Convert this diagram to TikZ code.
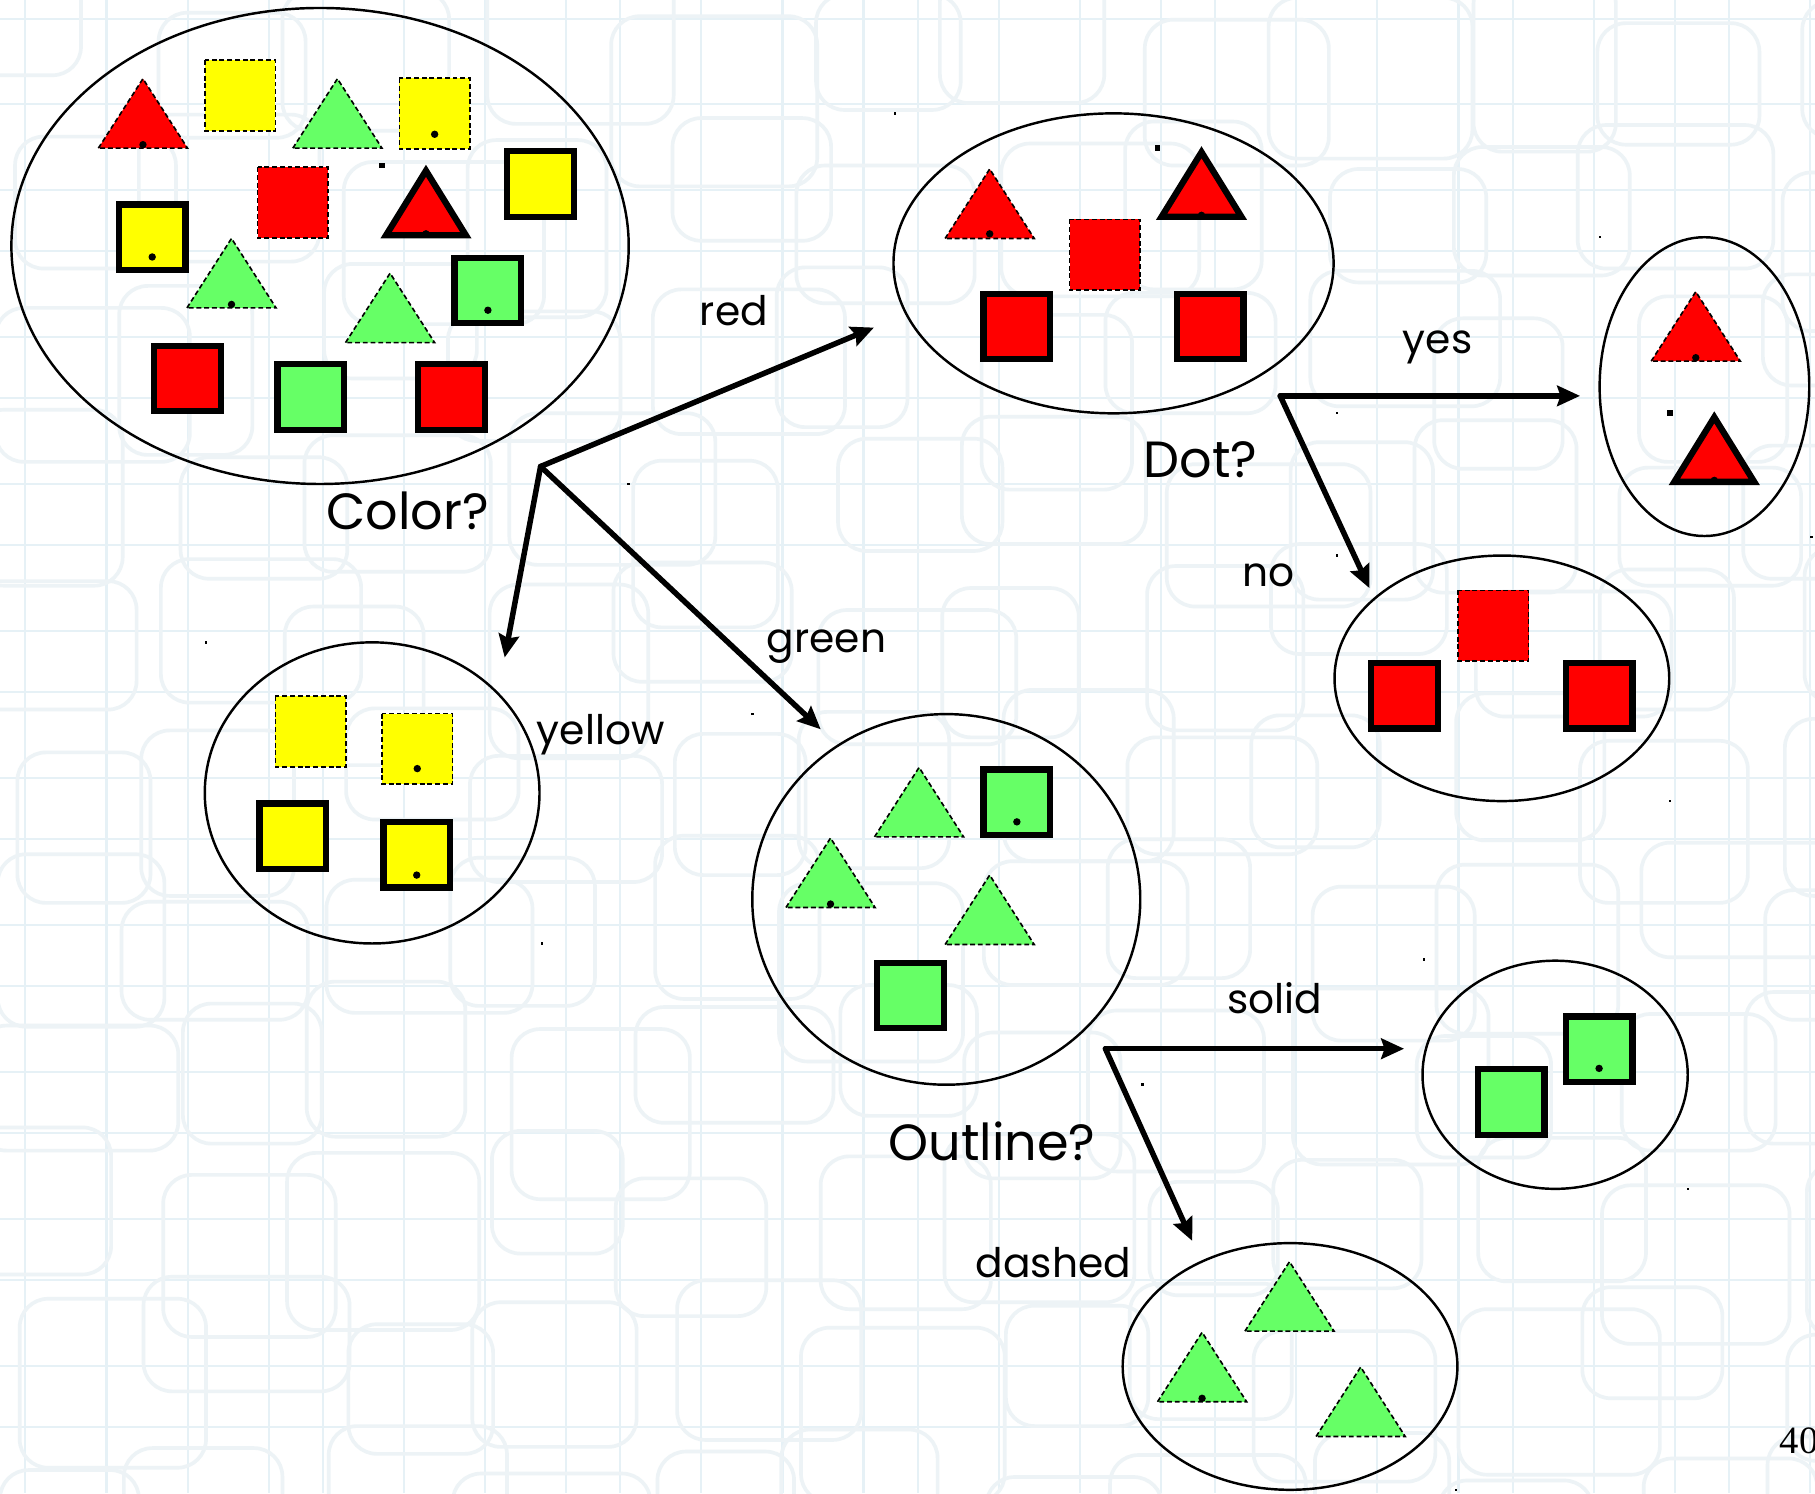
\documentclass[tikz,border=0pt]{standalone}
\usepackage{fontspec}
\setmainfont{Poppins}
\newfontfamily\pagenumfont{Liberation Serif}
\usetikzlibrary{shapes.geometric,arrows.meta}

\definecolor{shapered}{RGB}{255,0,0}
\definecolor{shapeyellow}{RGB}{255,255,0}
\definecolor{shapegreen}{RGB}{102,255,102}
\definecolor{gridline}{RGB}{230,241,246}
\definecolor{gridbox}{RGB}{237,243,246}

\tikzset{
  x=0.01cm, y=-0.01cm,
  setbox/.style={ellipse, draw=black, line width=0.6pt, inner sep=0pt},
  branch/.style={draw=black, line width=1.35pt, line cap=round,
    -{Stealth[length=5.6pt,width=5pt,inset=0.8pt]}},
  lbl/.style={inner sep=1pt, font=\fontsize{10}{12}\selectfont},
  question/.style={inner sep=1pt, font=\fontsize{12.5}{15}\selectfont},
  % square with a thick solid outline, origin at its centre
  pics/sqsolid/.style={code={
    \filldraw[fill=#1, draw=black, line width=1.55pt]
      (-28.8,-28.3) rectangle (28.8,28.3);}},
  % square with a thin dashed outline
  pics/sqdash/.style={code={
    \filldraw[fill=#1, draw=black, line width=0.4pt, dash pattern=on 1.2pt off 0.7pt]
      (-30.5,-30.5) rectangle (30.5,30.5);}},
  % triangle with a thick solid outline, origin at mid base
  pics/trisolid/.style={code={
    \filldraw[fill=#1, draw=black, line width=1.55pt, miter limit=10]
      (-34.5,-2.7) -- (0,-58.5) -- (34.5,-2.7) -- cycle;}},
  % triangle with a thin dashed outline
  pics/tridash/.style={code={
    \filldraw[fill=#1, draw=black, line width=0.4pt, dash pattern=on 1.2pt off 0.7pt]
      (-38.5,0) -- (0,-60) -- (38.5,0) -- cycle;}},
  pics/spot/.style={code={\fill[black] (0,0) circle[radius=3.2];}},
}

\begin{document}
\begin{tikzpicture}
\useasboundingbox (0,0) rectangle (1568,1290);
\fill[white] (0,0) rectangle (1568,1290);

% faint background grid of the slide template
\begin{scope}
  \clip (0,0) rectangle (1568,1290);
  \foreach \k in {0,...,24} {
    \pgfmathsetmacro\gx{22+64*\k+mod(\k*29,23)}
    \draw[gridline, line width=0.5pt] (\gx,0) -- (\gx,1290);
  }
  \foreach \k in {0,...,20} {
    \pgfmathsetmacro\gy{16+64*\k+mod(\k*31,21)}
    \draw[gridline, line width=0.5pt] (0,\gy) -- (1568,\gy);
  }
  \foreach \i in {0,...,11} {
    \foreach \j in {0,...,10} {
      \pgfmathsetmacro\bx{\i*140-40+mod(\i*37+\j*53,70)}
      \pgfmathsetmacro\by{\j*125-30+mod(\i*41+\j*23,60)}
      \pgfmathsetmacro\bw{110+mod(\i*17+\j*29,70)}
      \pgfmathsetmacro\bh{95+mod(\i*13+\j*19,60)}
      \draw[gridbox, line width=0.9pt, rounded corners=7pt]
        (\bx,\by) rectangle ++(\bw,\bh);
    }
  }
\end{scope}

% the sets
\node[setbox, minimum width=5.33cm, minimum height=4.11cm] (allset) at (276.5,212.5) {};
\node[setbox, minimum width=3.80cm, minimum height=2.59cm] (redset) at (962,227.5) {};
\node[setbox, minimum width=1.81cm, minimum height=2.58cm] (dotset) at (1472.5,334) {};
\node[setbox, minimum width=2.89cm, minimum height=2.12cm] (nodotset) at (1297.5,586) {};
\node[setbox, minimum width=2.89cm, minimum height=2.60cm] (yellowset) at (321.5,685) {};
\node[setbox, minimum width=3.35cm, minimum height=3.20cm] (greenset) at (817.5,777) {};
\node[setbox, minimum width=2.29cm, minimum height=1.97cm] (solidset) at (1343.5,928.5) {};
\node[setbox, minimum width=2.89cm, minimum height=2.13cm] (dashset) at (1114.5,1180.5) {};

% all objects
\pic at (123.5,128) {tridash=shapered};   \pic at (123.5,125) {spot};
\pic at (207.5,82.5) {sqdash=shapeyellow};
\pic at (291.5,128) {tridash=shapegreen};
\pic at (375.5,98) {sqdash=shapeyellow};  \pic at (375.5,116) {spot};
\pic at (253,175) {sqdash=shapered};
\pic at (368,206) {trisolid=shapered};    \pic at (368,202) {spot};
\pic at (467,159) {sqsolid=shapeyellow};
\pic at (131.5,205) {sqsolid=shapeyellow}; \pic at (131.5,222) {spot};
\pic at (200,266) {tridash=shapegreen};   \pic at (200,263) {spot};
\pic at (337,296) {tridash=shapegreen};
\pic at (421.5,251) {sqsolid=shapegreen}; \pic at (421.5,268) {spot};
\pic at (162,327) {sqsolid=shapered};
\pic at (268.5,343) {sqsolid=shapegreen};
\pic at (390,343) {sqsolid=shapered};

% red objects
\pic at (855,206) {tridash=shapered};     \pic at (855,202) {spot};
\pic at (1038,190) {trisolid=shapered};   \pic at (1038,186) {spot};
\pic at (954.5,220) {sqdash=shapered};
\pic at (878.5,282) {sqsolid=shapered};
\pic at (1045.5,282) {sqsolid=shapered};

% red with dot
\pic at (1465,312) {tridash=shapered};    \pic at (1465,309) {spot};
\pic at (1481,419) {trisolid=shapered};   \pic at (1481,415) {spot};

% red without dot
\pic at (1290,540.5) {sqdash=shapered};
\pic at (1213.5,601) {sqsolid=shapered};
\pic at (1381.5,601) {sqsolid=shapered};

% yellow objects
\pic at (268.5,632) {sqdash=shapeyellow};
\pic at (360.5,647) {sqdash=shapeyellow}; \pic at (360.5,664) {spot};
\pic at (253,722.5) {sqsolid=shapeyellow};
\pic at (360,738.5) {sqsolid=shapeyellow}; \pic at (360,756) {spot};

% green objects
\pic at (794,723) {tridash=shapegreen};
\pic at (878.5,693) {sqsolid=shapegreen}; \pic at (878.5,710) {spot};
\pic at (717.5,784) {tridash=shapegreen}; \pic at (717.5,781) {spot};
\pic at (855,816) {tridash=shapegreen};
\pic at (786.5,860) {sqsolid=shapegreen};

% green, solid outline
\pic at (1381.5,906.5) {sqsolid=shapegreen}; \pic at (1381.5,923) {spot};
\pic at (1305.5,952) {sqsolid=shapegreen};

% green, dashed outline
\pic at (1114,1150) {tridash=shapegreen};
\pic at (1038.5,1211) {tridash=shapegreen}; \pic at (1038.5,1208) {spot};
\pic at (1175.5,1241) {tridash=shapegreen};

% stray specks
\foreach \sx/\sy/\ss in {330/143/5, 1000/128/5, 1443/357/5, 773/98/2, 543/418/2,
  178/555/2, 650/617/2, 468/815/2, 1155/357/2, 1155/480/2, 1382/205/2,
  1443/692/2, 1458/1027/2, 1230/829/2, 987/937/2, 1258/1287/2, 1565/464/2}
  \fill[black] (\sx-\ss/2,\sy-\ss/2) rectangle ++(\ss,\ss);

% decision branches
\coordinate (colorfork) at (467,403);
\coordinate (redtip) at (755,283);
\coordinate (yellowtip) at (436,568);
\coordinate (greentip) at (709,630);
\coordinate (dotfork) at (1106,342);
\coordinate (yestip) at (1365,342);
\coordinate (notip) at (1183,508);
\coordinate (outlinefork) at (955,906);
\coordinate (solidtip) at (1213,906);
\coordinate (dashtip) at (1030,1072);

\draw[branch] (colorfork) -- (redtip);
\draw[branch] (colorfork) -- (yellowtip);
\draw[branch] (colorfork) -- (greentip);
\draw[branch] (dotfork) -- (yestip);
\draw[branch] (dotfork) -- (notip);
\draw[branch] (outlinefork) -- (solidtip);
\draw[branch] (outlinefork) -- (dashtip);

% questions and answers
\node[question] (qcolor) at (352,441) {Color?};
\node[question] (qdot) at (1037,397) {Dot?};
\node[question] (qoutline) at (857,986) {Outline?};
\node[lbl] (lred) at (634,268) {red};
\node[lbl] (lyellow) at (519,635) {yellow};
\node[lbl] (lgreen) at (714,559) {green};
\node[lbl] (lyes) at (1242,300) {yes};
\node[lbl] (lno) at (1096,497) {no};
\node[lbl] (lsolid) at (1101,862) {solid};
\node[lbl] (ldashed) at (910,1091) {dashed};

% page number, running off the edge
\node[anchor=west, inner sep=0pt, font=\pagenumfont\fontsize{9.5}{11}\selectfont] (pagenum) at (1537,1245) {40};
\end{tikzpicture}
\end{document}
